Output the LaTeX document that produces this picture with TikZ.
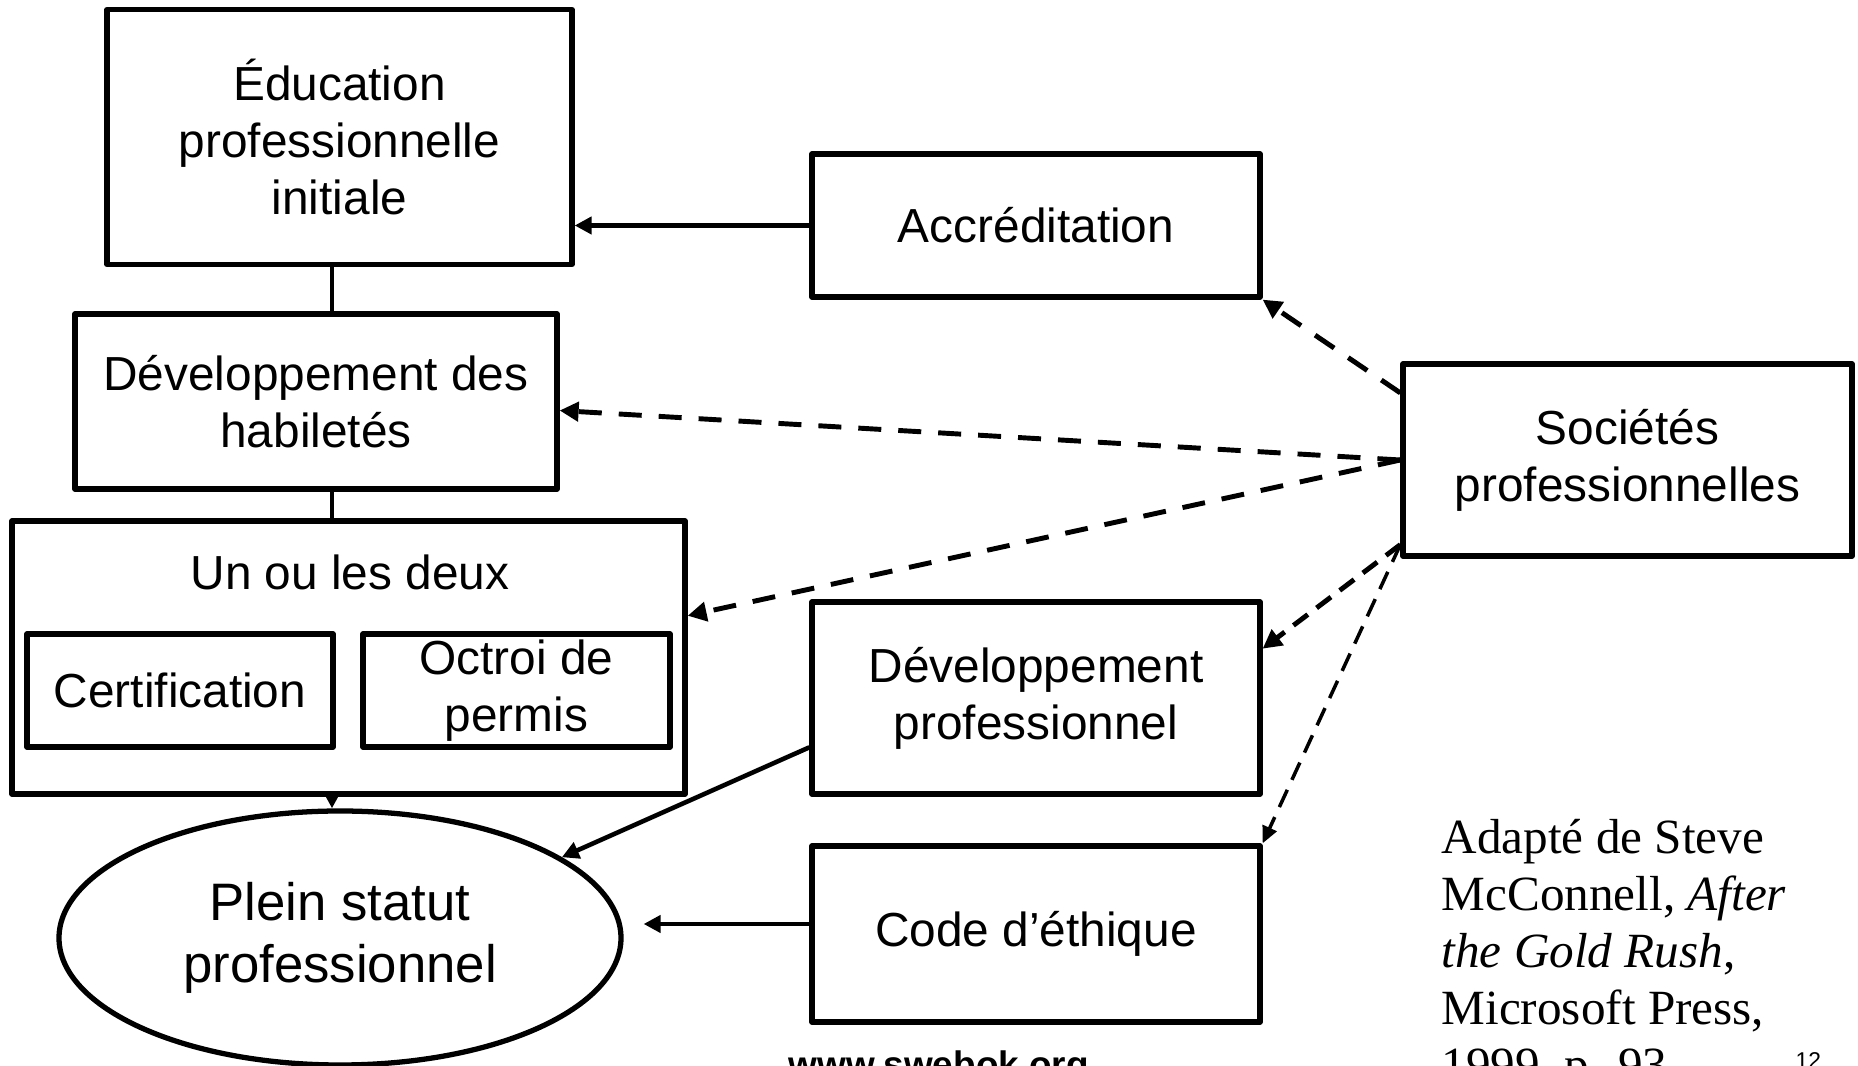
\documentclass[tikz,border=0pt]{standalone}
\usepackage{fontspec}
\setmainfont{Liberation Serif}
\setsansfont{Liberation Sans}
\usetikzlibrary{arrows.meta,shapes.geometric,calc}

\begin{document}
\begin{tikzpicture}[
        box/.style={rectangle, draw, line width=1.5pt, line join=round, inner sep=0pt, align=center, font=\sffamily\fontsize{13.6}{16.2}\selectfont},
        plain link/.style={line width=1.3pt, -{Triangle[length=0.17cm, width=0.17cm]}},
        soc link/.style={line width=1.4pt, dash pattern=on 0.23cm off 0.17cm, -{Triangle[length=0.19cm, width=0.19cm]}},
        prof link/.style={line width=1.4pt, dash pattern=on 0.18cm off 0.11cm, -{Triangle[length=0.19cm, width=0.19cm]}},
        thin link/.style={line width=1pt, dash pattern=on 0.19cm off 0.11cm, -{Triangle[length=0.17cm, width=0.15cm]}}
    ]
        \useasboundingbox (0,0) rectangle (18.58,-10.66);

        % Nodes
        \node[box, minimum width=4.65cm, minimum height=2.55cm] at (3.395, -1.37)  (edu)    {Éducation\\professionnelle\\initiale};
        \node[box, minimum width=4.48cm, minimum height=1.43cm] at (10.36, -2.255)  (accr)   {Accréditation};
        \node[box, minimum width=4.82cm, minimum height=1.75cm] at (3.16, -4.015)  (habil)  {Développement des\\habiletés};
        \node[box, minimum width=4.49cm, minimum height=1.92cm] at (16.275, -4.60)  (soc)    {Sociétés\\professionnelles};
        \node[box, minimum width=6.73cm, minimum height=2.73cm] at (3.485, -6.575)  (deux)   {};
        \node[inner sep=0pt, font=\sffamily\fontsize{13.6}{16.2}\selectfont] at (3.50, -5.72)  (deuxtitre) {Un ou les deux};
        \node[box, minimum width=3.06cm, minimum height=1.13cm] at (1.80, -6.905)  (cert)   {Certification};
        \node[box, minimum width=3.07cm, minimum height=1.13cm] at (5.165, -6.905)  (permis) {Octroi de\\permis};
        \node[box, minimum width=4.48cm, minimum height=1.92cm] at (10.36, -6.98)  (devp)   {Développement\\professionnel};
        \node[box, minimum width=4.48cm, minimum height=1.76cm] at (10.36, -9.34)  (code)   {Code d’éthique};
        \node[box, ellipse, minimum width=5.62cm, minimum height=2.54cm, font=\sffamily\fontsize{15}{17.8}\selectfont] at (3.40, -9.38)  (stat)   {Plein statut\\professionnel};
        \coordinate (axe) at ($(stat.north)+(-0.08,0)$);

        % Source
        \node[anchor=north west, align=left, inner sep=0pt, font=\fontsize{14}{16.2}\selectfont] at (14.41, -8.19)  (source) {Adapté de Steve\\McConnell, \textit{After}\\\textit{the Gold Rush},\\Microsoft Press,\\1999, p. 93};
        \node[anchor=north west, inner sep=0pt, font=\sffamily\bfseries\fontsize{10.5}{12}\selectfont] at (7.88, -10.50)  (web)  {www.swebok.org};
        \node[anchor=north west, inner sep=0pt, font=\sffamily\fontsize{6.5}{8}\selectfont] at (17.95, -10.52)  (page) {12};

        \draw[line width=1.3pt]  (edu.south -| axe) -- (habil.north -| axe);
        \draw[line width=1.3pt]  (habil.south -| axe) -- (deux.north -| axe);
        \draw[plain link]  (deux.south -| axe) -- (axe);

        \draw[plain link]  (accr.west) -- (accr.west -| edu.east);
        \draw[plain link]  ($(devp.south west)!0.25!(devp.north west)$) -- (stat.20);
        \draw[plain link, shorten >=0.2cm]  ([yshift=1mm]code.west) -- ([yshift=1mm]code.west -| stat.east);

        \draw[soc link]  ($(soc.north west)!0.16!(soc.south west)$) -- (accr.south east);
        \draw[soc link]  (soc.west) -- ($(habil.north east)!0.55!(habil.south east)$);
        \draw[soc link]  (soc.west) -- ($(deux.north east)!0.35!(deux.south east)$);

        \draw[prof link]  ([yshift=0.14cm]soc.south west) -- ($(devp.north east)!0.25!(devp.south east)$);
        \draw[thin link]  ([yshift=0.14cm]soc.south west) -- (code.north east);
    \end{tikzpicture}
\end{document}
